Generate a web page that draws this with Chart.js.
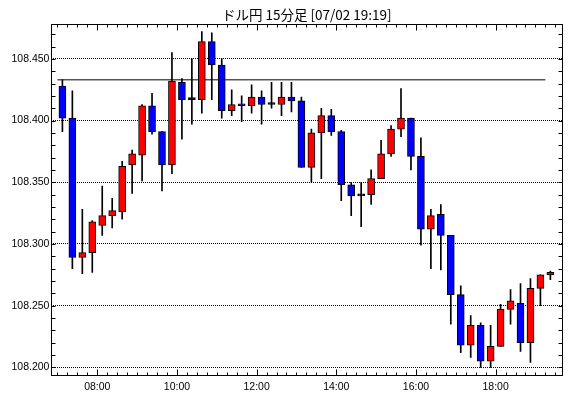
<!DOCTYPE html>
<html>
<head>
<meta charset="utf-8">
<script src="https://cdn.jsdelivr.net/npm/chart.js@4/dist/chart.umd.min.js"></script>
<style>
  body { margin: 0; background: #fff; }
  canvas { display: block; }
</style>
</head>
<body>
<canvas id="c" width="570" height="398"></canvas>
<script>
// ドル円 15分足 07/02
var times = ['07:00','07:15','07:30','07:45','08:00','08:15','08:30','08:45','09:00','09:15',
  '09:30','09:45','10:00','10:15','10:30','10:45','11:00','11:15','11:30','11:45',
  '12:00','12:15','12:30','12:45','13:00','13:15','13:30','13:45','14:00','14:15',
  '14:30','14:45','15:00','15:15','15:30','15:45','16:00','16:15','16:30','16:45',
  '17:00','17:15','17:30','17:45','18:00','18:15','18:30','18:45','19:00','19:15'];

var opens = [108.428,108.402,108.289,108.293,108.315,108.323,108.326,108.364,108.372,108.412,
  108.391,108.364,108.431,108.417,108.417,108.464,108.445,108.408,108.413,108.412,
  108.419,108.413,108.413,108.419,108.416,108.362,108.390,108.404,108.391,108.348,
  108.339,108.340,108.353,108.373,108.393,108.402,108.371,108.312,108.324,108.307,
  108.259,108.218,108.234,108.205,108.217,108.247,108.252,108.220,108.264,108.275];

var highs = [108.433,108.424,108.328,108.319,108.347,108.337,108.367,108.376,108.413,108.422,
  108.391,108.455,108.434,108.450,108.472,108.471,108.450,108.425,108.420,108.429,
  108.424,108.431,108.431,108.431,108.419,108.393,108.410,108.409,108.392,108.350,
  108.350,108.360,108.384,108.396,108.426,108.402,108.386,108.328,108.332,108.307,
  108.266,108.242,108.236,108.234,108.251,108.263,108.268,108.272,108.275,108.278];

var lows = [108.391,108.280,108.276,108.277,108.307,108.313,108.320,108.341,108.351,108.389,
  108.343,108.357,108.385,108.397,108.406,108.417,108.402,108.404,108.399,108.406,
  108.397,108.410,108.404,108.407,108.362,108.350,108.353,108.388,108.335,108.323,
  108.314,108.332,108.353,108.371,108.387,108.360,108.299,108.280,108.279,108.235,
  108.212,108.208,108.200,108.200,108.217,108.235,108.213,108.204,108.250,108.271];

var closes = [108.402,108.289,108.293,108.318,108.323,108.327,108.363,108.373,108.412,108.391,
  108.364,108.432,108.417,108.417,108.464,108.445,108.408,108.413,108.412,108.419,
  108.413,108.413,108.419,108.416,108.362,108.390,108.404,108.391,108.348,108.339,
  108.339,108.353,108.373,108.393,108.402,108.371,108.312,108.323,108.307,108.259,
  108.218,108.234,108.205,108.217,108.247,108.254,108.220,108.264,108.275,108.277];

var refLevel = 108.433;   // 横線
var yTickValues = [108.200, 108.250, 108.300, 108.350, 108.400, 108.450];
var xTickLabels = ['08:00', '10:00', '12:00', '14:00', '16:00', '18:00'];

function toMin(s) {
  var p = s.split(':');
  return +p[0] * 60 + +p[1];
}

// 足の中心 = 開始時刻 + 7.5分
var bodies = times.map(function (t, i) {
  return { x: toMin(t) + 7.5, y: [opens[i], closes[i]] };
});
var wicks = times.map(function (t, i) {
  return { x: toMin(t) + 7.5, y: [lows[i], highs[i]] };
});
var bodyColors = times.map(function (t, i) {
  if (closes[i] > opens[i]) return '#ff0000';
  if (closes[i] < opens[i]) return '#0000ff';
  return '#000000';
});

// 枠と内向きの目盛り
var frameTicks = {
  id: 'frameTicks',
  afterDatasetsDraw: function (chart) {
    var ctx = chart.ctx, a = chart.chartArea, x = chart.scales.x, y = chart.scales.y;
    var L = Math.round(a.left) + 0.5, R = Math.round(a.right) + 0.5;
    var T = Math.round(a.top) + 0.5, B = Math.round(a.bottom) + 0.5;
    ctx.save();
    ctx.strokeStyle = '#000';
    ctx.lineWidth = 1;
    ctx.beginPath();
    for (var k = Math.ceil(y.min * 100); k <= Math.floor(y.max * 100); k++) {
      var py = Math.round(y.getPixelForValue(k / 100)) + 0.5;
      ctx.moveTo(L, py); ctx.lineTo(L + 4, py);
      ctx.moveTo(R, py); ctx.lineTo(R - 4, py);
    }
    for (var m = Math.ceil(x.min / 15) * 15; m <= x.max; m += 15) {
      var px = Math.round(x.getPixelForValue(m)) + 0.5;
      var len = (m % 120 === 0) ? 6 : 3;
      ctx.moveTo(px, B); ctx.lineTo(px, B - len);
      ctx.moveTo(px, T); ctx.lineTo(px, T + len);
    }
    ctx.stroke();
    ctx.strokeRect(L, T, R - L, B - T);
    ctx.restore();
  }
};

var tickFont = { family: '"Liberation Sans"', size: 10.5 };

new Chart(document.getElementById('c'), {
  type: 'bar',
  data: {
    datasets: [
      {
        data: bodies,
        backgroundColor: bodyColors,
        borderColor: '#000',
        borderWidth: 1,
        borderSkipped: false,
        barThickness: 7,
        minBarLength: 2,
        grouped: false,
        order: 0
      },
      {
        data: wicks,
        backgroundColor: '#000',
        borderWidth: 0,
        barThickness: 1,
        grouped: false,
        order: 1
      },
      {
        type: 'line',
        data: [
          { x: toMin(times[0]), y: refLevel },
          { x: toMin(times[times.length - 1]), y: refLevel }
        ],
        borderColor: '#000',
        borderWidth: 1,
        pointRadius: 0,
        order: 2
      }
    ]
  },
  options: {
    responsive: false,
    animation: false,
    layout: { padding: { left: 9.5, right: 8, top: 0, bottom: 0 } },
    plugins: {
      legend: { display: false },
      tooltip: { enabled: false },
      title: {
        display: true,
        fullSize: false,
        text: 'ドル円 15分足 [07/02 19:19]',
        color: '#000',
        font: { family: '"Noto Sans CJK JP"', size: 13.5, weight: 'normal' },
        padding: { top: 6.5, bottom: 1.6 }
      }
    },
    scales: {
      x: {
        type: 'linear',
        offset: false,
        min: 411,
        max: 1180,
        grid: { display: false, drawTicks: false },
        border: { display: false },
        afterBuildTicks: function (s) {
          s.ticks = xTickLabels.map(function (t) { return { value: toMin(t) }; });
        },
        ticks: {
          padding: 5,
          color: '#000',
          font: tickFont,
          callback: function (v) {
            var h = Math.floor(v / 60), mm = v % 60;
            return (h < 10 ? '0' : '') + h + ':' + (mm < 10 ? '0' : '') + mm;
          }
        }
      },
      y: {
        min: 108.1935,
        max: 108.478,
        grid: { color: '#000', lineWidth: 1, drawTicks: false },
        border: { display: false, dash: [1, 1] },
        afterBuildTicks: function (s) {
          s.ticks = yTickValues.map(function (v) { return { value: v }; });
        },
        ticks: {
          padding: 2,
          color: '#000',
          font: tickFont,
          callback: function (v) { return v.toFixed(3); }
        }
      }
    }
  },
  plugins: [frameTicks]
});
</script>
</body>
</html>
